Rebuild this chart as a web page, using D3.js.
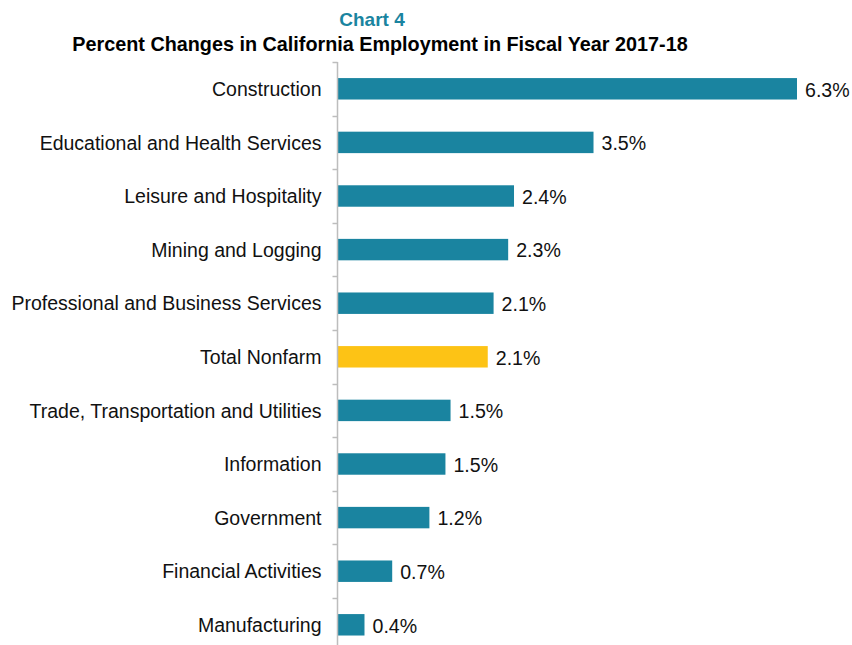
<!DOCTYPE html>
<html>
<head>
<meta charset="utf-8">
<script src="https://cdn.jsdelivr.net/npm/d3@7"></script>
<style>
  body { margin: 0; background: #fff; }
  text { font-family: "Liberation Sans", Arial, sans-serif; }
</style>
</head>
<body>
<svg id="chart"></svg>
<script>
const width = 852;
const height = 645;

const categories = [
  "Construction",
  "Educational and Health Services",
  "Leisure and Hospitality",
  "Mining and Logging",
  "Professional and Business Services",
  "Total Nonfarm",
  "Trade, Transportation and Utilities",
  "Information",
  "Government",
  "Financial Activities",
  "Manufacturing"
];
const values = [6.30, 3.51, 2.42, 2.34, 2.14, 2.06, 1.55, 1.48, 1.26, 0.75, 0.37];
const valueLabels = ["6.3%", "3.5%", "2.4%", "2.3%", "2.1%", "2.1%", "1.5%", "1.5%", "1.2%", "0.7%", "0.4%"];
const highlight = "Total Nonfarm";

const teal = "#1a84a0";
const gold = "#fdc315";

const x0 = 337.5;   // axis position
const topY = 62;
const step = 53.6;

const svg = d3.select("#chart")
  .attr("width", width)
  .attr("height", height);

const x = d3.scaleLinear()
  .domain([0, 6.3])
  .range([x0, 797]);

const y = d3.scaleBand()
  .domain(categories)
  .range([topY, topY + step * categories.length])
  .paddingInner(0.6)
  .paddingOuter(0.3);

// titles
svg.append("text")
  .attr("x", 372)
  .attr("y", 26)
  .attr("text-anchor", "middle")
  .style("fill", teal)
  .style("font-weight", "bold")
  .style("font-size", "19px")
  .text("Chart 4");

svg.append("text")
  .attr("x", 380)
  .attr("y", 51)
  .attr("text-anchor", "middle")
  .style("fill", "#000")
  .style("font-weight", "bold")
  .style("font-size", "19.8px")
  .text("Percent Changes in California Employment in Fiscal Year 2017-18");

// bars
svg.selectAll("rect.bar")
  .data(categories)
  .join("rect")
  .attr("class", "bar")
  .attr("x", x(0))
  .attr("y", d => y(d))
  .attr("width", (d, i) => x(values[i]) - x(0))
  .attr("height", y.bandwidth())
  .style("fill", d => d === highlight ? gold : teal);

// value labels
svg.selectAll("text.val")
  .data(categories)
  .join("text")
  .attr("class", "val")
  .attr("x", (d, i) => x(values[i]) + 8)
  .attr("y", d => y(d) + y.bandwidth() / 2 + 1)
  .attr("dy", "0.35em")
  .style("fill", "#111")
  .style("font-size", "19.6px")
  .text((d, i) => valueLabels[i]);

// category axis
const axis = svg.append("g")
  .attr("transform", `translate(${x0},1)`)
  .call(d3.axisLeft(y).tickSize(0).tickPadding(16));

axis.select(".domain").remove();
axis.selectAll("text")
  .style("font-family", "'Liberation Sans', Arial, sans-serif")
  .style("font-size", "19.5px")
  .style("fill", "#111");

svg.append("line")
  .attr("x1", x0).attr("x2", x0)
  .attr("y1", topY).attr("y2", topY + step * categories.length)
  .style("stroke", "#bdbdbd")
  .style("stroke-width", 1.5);

const boundaries = d3.range(categories.length + 1).map(i => topY + i * step);
svg.selectAll("line.tick")
  .data(boundaries)
  .join("line")
  .attr("class", "tick")
  .attr("x1", x0 - 5).attr("x2", x0)
  .attr("y1", d => Math.round(d) + 0.5).attr("y2", d => Math.round(d) + 0.5)
  .style("stroke", "#bdbdbd")
  .style("stroke-width", 1.5);
</script>
</body>
</html>
